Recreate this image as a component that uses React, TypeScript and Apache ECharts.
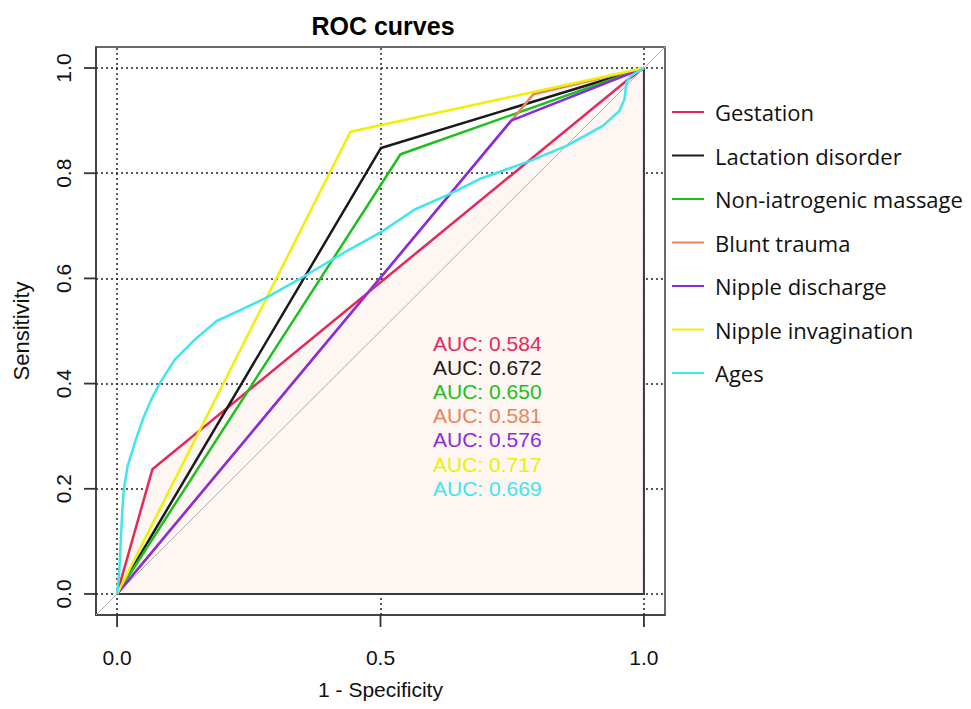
import React, { useEffect, useRef } from "react";
import * as echarts from "echarts";

// Axis extents (R adds 4% on each side)
const AXIS_MIN = -0.04;
const AXIS_MAX = 1.04;

const xTickValues = [0, 0.5, 1];
const yTickValues = [0, 0.2, 0.4, 0.6, 0.8, 1];

const seriesNames = [
  "Gestation",
  "Lactation disorder",
  "Non-iatrogenic massage",
  "Blunt trauma",
  "Nipple discharge",
  "Nipple invagination",
  "Ages",
];
const seriesColors = ["#E6285A", "#1A1A1A", "#1CC01C", "#E8845C", "#8A2BE2", "#F0F000", "#40E6EE"];
const aucLabels = ["0.584", "0.672", "0.650", "0.581", "0.576", "0.717", "0.669"];

// 1 - Specificity (x) and Sensitivity (y) for each ROC curve
const gestationX = [0, 0.067, 0.967, 1];
const gestationY = [0, 0.237, 0.976, 1];
const lactationX = [0, 0.501, 1];
const lactationY = [0, 0.848, 1];
const massageX = [0, 0.538, 1];
const massageY = [0, 0.836, 1];
const bluntX = [0, 0.79, 1];
const bluntY = [0, 0.95, 1];
const dischargeX = [0, 0.748, 1];
const dischargeY = [0, 0.9, 1];
const invaginationX = [0, 0.443, 1];
const invaginationY = [0, 0.879, 1];
const agesX = [0, 0.004, 0.007, 0.01, 0.013, 0.02, 0.036, 0.05, 0.065, 0.081, 0.11, 0.148, 0.189, 0.237, 0.288, 0.345, 0.4375, 0.501, 0.565, 0.628, 0.688, 0.783, 0.853, 0.922, 0.953, 0.963, 0.967, 0.975, 1];
const agesY = [0, 0.04, 0.1, 0.16, 0.2, 0.243, 0.295, 0.335, 0.37, 0.401, 0.446, 0.484, 0.519, 0.541, 0.566, 0.598, 0.653, 0.688, 0.731, 0.759, 0.789, 0.823, 0.852, 0.89, 0.918, 0.94, 0.973, 0.985, 1];

const curvesX = [gestationX, lactationX, massageX, bluntX, dischargeX, invaginationX, agesX];
const curvesY = [gestationY, lactationY, massageY, bluntY, dischargeY, invaginationY, agesY];

const FONT = "'Liberation Sans', Arial, sans-serif";

function pairs(xs: number[], ys: number[]) {
  return xs.map((x, i) => [x, ys[i]]);
}

export default function App() {
  const ref = useRef<HTMLDivElement>(null);

  useEffect(() => {
    if (!ref.current) return;
    const chart = echarts.init(ref.current, undefined, { renderer: "svg" });

    const gridLeft = 96;
    const gridTop = 47;
    const gridRight = 971 - 665;
    const gridBottom = 709 - 615;
    const tickLen = 12;
    const tickStyle = { stroke: "#333333", lineWidth: 1.8 };

    const lastX = gestationX[gestationX.length - 1];
    const lastY = gestationY[gestationY.length - 1];

    const curveSeries = seriesNames.map((name, i) => {
      const s: any = {
        name,
        type: "line",
        data: pairs(curvesX[i], curvesY[i]),
        symbol: "none",
        color: seriesColors[i],
        lineStyle: { color: seriesColors[i], width: 2.5 },
        z: 3,
        silent: true,
      };
      if (i === 0) {
        s.areaStyle = { color: "#FDF6F3", opacity: 1, origin: 0 };
        s.z = 2;
      }
      return s;
    });

    const option: any = {
      animation: false,
      backgroundColor: "#ffffff",
      title: {
        text: "ROC curves",
        left: 378,
        top: 8,
        textAlign: "center",
        textStyle: { fontFamily: FONT, fontWeight: "bold", fontSize: 25, color: "#000" },
      },
      legend: {
        orient: "vertical",
        left: 667,
        top: 96,
        data: seriesNames,
        icon: "rect",
        itemWidth: 32,
        itemHeight: 2,
        itemGap: 21.5,
        textStyle: { fontFamily: "'Open Sans', sans-serif", fontSize: 22, color: "#111", lineHeight: 22, padding: [0, 0, 0, 6] },
        selectedMode: false,
      },
      grid: {
        left: gridLeft,
        top: gridTop,
        right: gridRight,
        bottom: gridBottom,
        show: true,
        borderColor: "#3a3a3a",
        borderWidth: 1.5,
        backgroundColor: "transparent",
      },
      xAxis: {
        type: "value",
        min: AXIS_MIN,
        max: AXIS_MAX,
        name: "1 - Specificity",
        nameLocation: "middle",
        nameGap: 64,
        nameTextStyle: { fontFamily: FONT, fontSize: 21, color: "#111" },
        axisLine: { show: true, onZero: false, lineStyle: { color: "#3a3a3a", width: 1.5 } },
        axisTick: { show: false },
        axisLabel: {
          customValues: xTickValues,
          formatter: (v: number) => v.toFixed(1),
          margin: 32,
          fontFamily: FONT,
          fontSize: 21,
          color: "#111",
        },
        splitLine: { show: false },
      },
      yAxis: {
        type: "value",
        min: AXIS_MIN,
        max: AXIS_MAX,
        name: "Sensitivity",
        nameLocation: "middle",
        nameGap: 64,
        nameTextStyle: { fontFamily: FONT, fontSize: 22, color: "#111" },
        axisLine: { show: true, onZero: false, lineStyle: { color: "#3a3a3a", width: 1.5 } },
        axisTick: { show: false },
        axisLabel: {
          customValues: yTickValues,
          formatter: (v: number) => v.toFixed(1),
          rotate: 90,
          margin: 22,
          fontFamily: FONT,
          fontSize: 21,
          color: "#111",
        },
        splitLine: { show: false },
      },
      graphic: aucLabels.map((a, i) => ({
        type: "text",
        x: 433,
        y: 343 + i * 24.2,
        z: 10,
        silent: true,
        style: {
          text: "AUC: " + a,
          fill: seriesColors[i],
          font: `21px ${FONT}`,
          verticalAlign: "middle",
        },
      })),
      series: [
        {
          name: "grid",
          type: "line",
          data: [],
          z: 1,
          silent: true,
          markLine: {
            z: 1,
            silent: true,
            symbol: ["none", "none"],
            label: { show: false },
            lineStyle: { color: "#222", width: 1.5, type: [2, 3] },
            data: [
              ...xTickValues.map((v) => ({ xAxis: v })),
              ...yTickValues.map((v) => ({ yAxis: v })),
            ],
          },
        },
        curveSeries[0],
        {
          name: "diagonal",
          type: "line",
          data: [
            [AXIS_MIN, AXIS_MIN],
            [AXIS_MAX, AXIS_MAX],
          ],
          symbol: "none",
          lineStyle: { color: "#ADADAD", width: 1 },
          z: 2,
          silent: true,
        },
        {
          name: "aucBorder",
          type: "line",
          data: [
            [gestationX[0], 0],
            [lastX, 0],
            [lastX, lastY],
          ],
          symbol: "none",
          lineStyle: { color: "#3a3a3a", width: 2 },
          z: 2,
          silent: true,
        },
        ...curveSeries.slice(1),
        {
          name: "xTicks",
          type: "custom",
          clip: false,
          silent: true,
          z: 10,
          data: xTickValues.map((v) => [v, AXIS_MIN]),
          renderItem: (_params: any, api: any) => {
            const p = api.coord([api.value(0), api.value(1)]);
            return {
              type: "line",
              shape: { x1: p[0], y1: p[1], x2: p[0], y2: p[1] + tickLen },
              style: tickStyle,
            };
          },
        },
        {
          name: "yTicks",
          type: "custom",
          clip: false,
          silent: true,
          z: 10,
          data: yTickValues.map((v) => [AXIS_MIN, v]),
          renderItem: (_params: any, api: any) => {
            const p = api.coord([api.value(0), api.value(1)]);
            return {
              type: "line",
              shape: { x1: p[0] - tickLen, y1: p[1], x2: p[0], y2: p[1] },
              style: tickStyle,
            };
          },
        },
      ],
    };

    chart.setOption(option);
    return () => chart.dispose();
  }, []);

  return <div ref={ref} style={{ position: "absolute", left: 0, top: 0, width: 971, height: 709 }} />;
}
